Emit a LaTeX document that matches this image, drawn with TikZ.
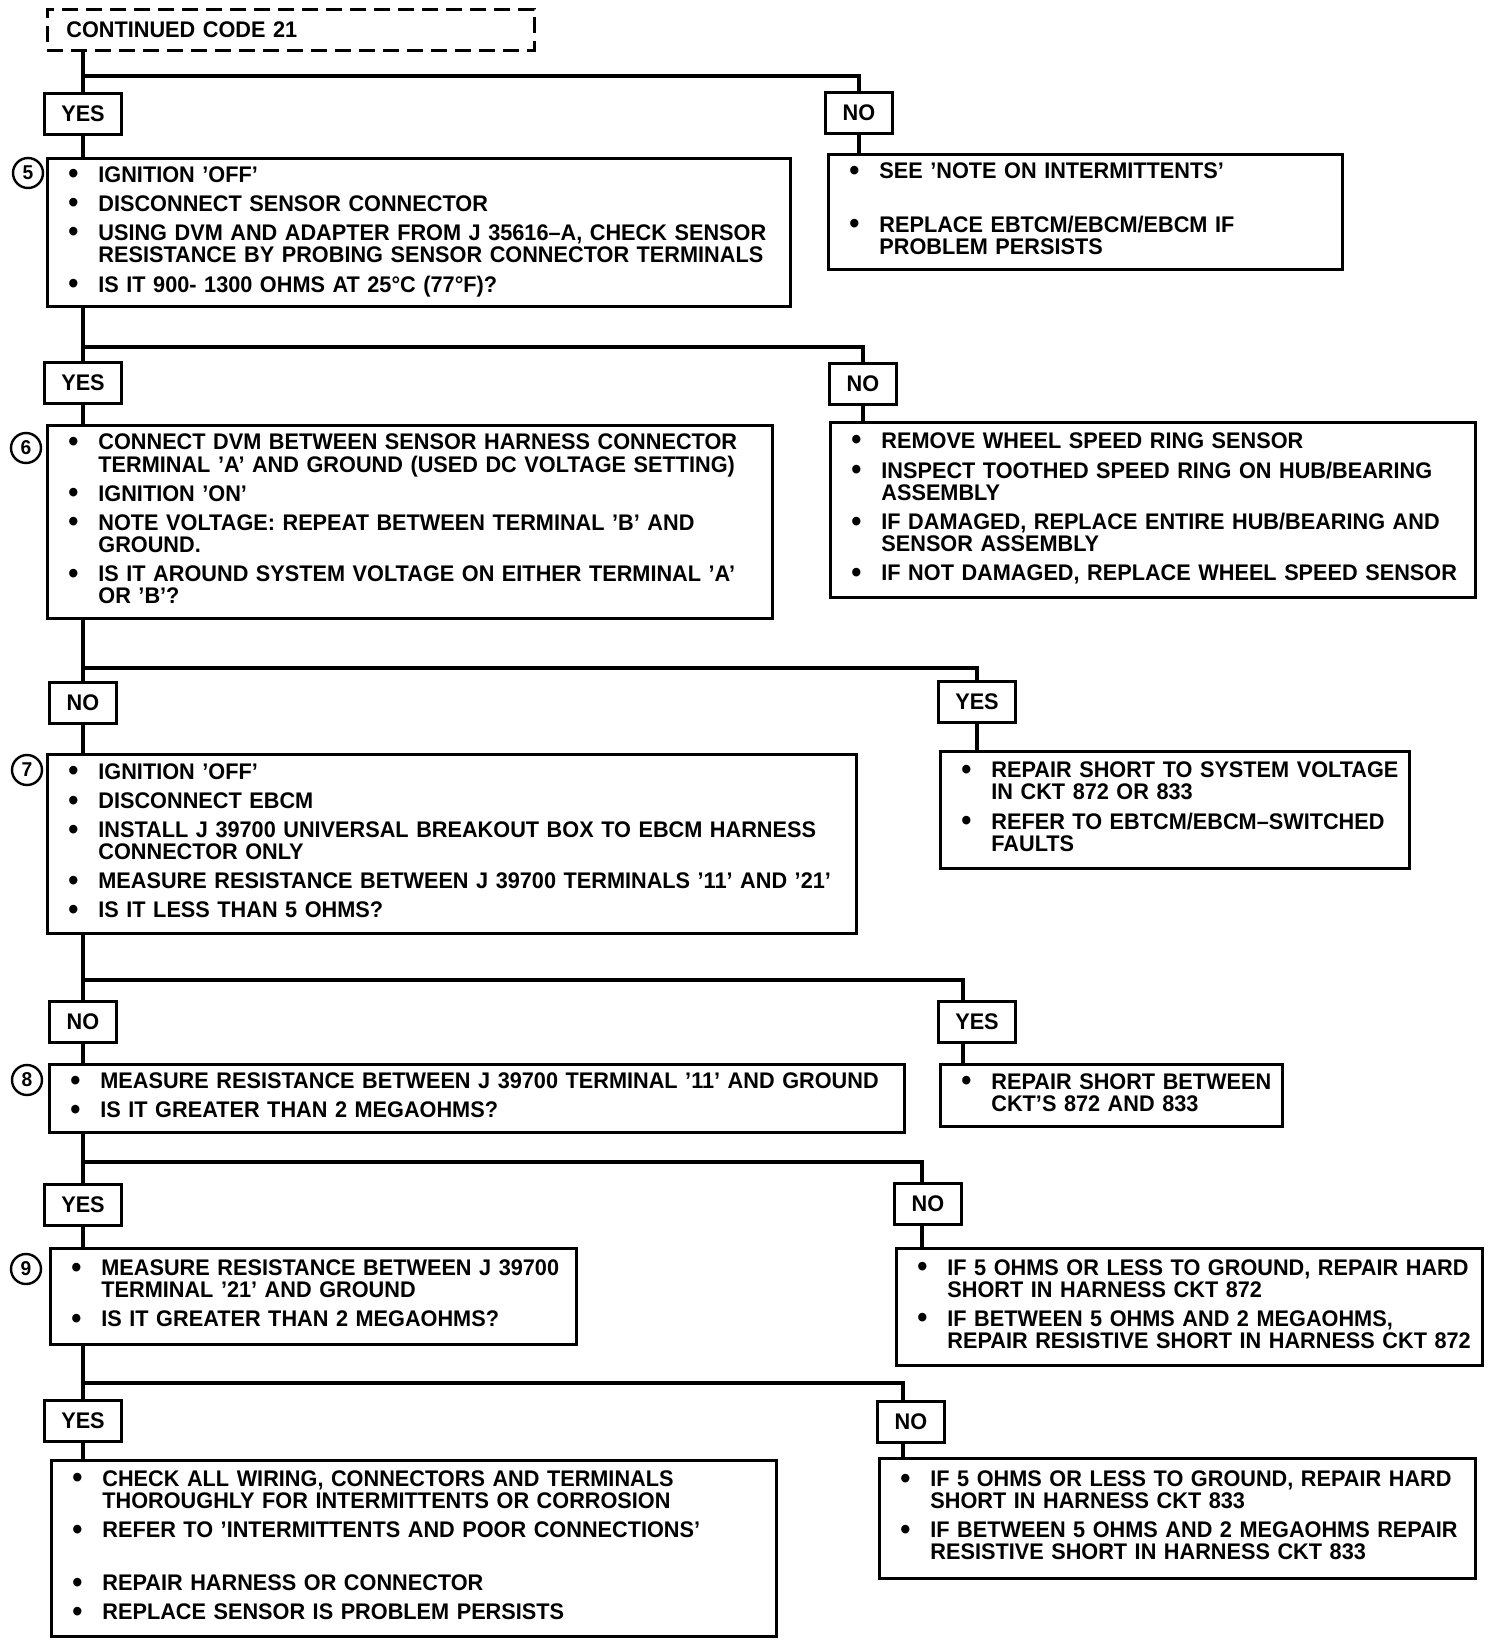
\documentclass[tikz,border=0pt]{standalone}
\usepackage{fontspec}
\setmainfont{Liberation Sans}[FakeStretch=0.96]
\newcommand{\chartfont}{\fontsize{22.6}{21}\selectfont\bfseries}
\newcommand{\numfont}{\fontsize{20}{20}\selectfont\bfseries}
\newcommand{\blt}{\raisebox{-1.5pt}{\fontsize{30}{21}\selectfont\textbullet}}
\newcommand{\itm}[1]{\noindent\makebox[29pt][l]{\hspace{-1pt}\blt}\begin{tabular}[t]{@{}l@{}}#1\end{tabular}\par}

\begin{document}
\begin{tikzpicture}[
    x=1pt, y=-1pt,
    every node/.style={font=\chartfont},
    startbox/.style={draw, line width=2.8pt, dash pattern=on 16pt off 8pt, anchor=north west,
        inner xsep=19pt, inner ysep=0pt, align=left, text width=449pt, minimum height=41pt},
    stepbox/.style={draw, line width=2.8pt, anchor=north west, inner xsep=22pt, inner ysep=0pt,
        align=left, execute at begin node={\setlength{\parskip}{6pt}\hfuzz=300pt}},
    answer/.style={draw, line width=2.8pt, inner xsep=17pt, inner ysep=0pt, minimum height=41pt},
    stepnum/.style={circle, draw, line width=2.4pt, inner sep=0pt, minimum size=30pt, font=\numfont},
    link/.style={line width=3.4pt}
]
\useasboundingbox (0,0) rectangle (1504,1646);

% start
\node[startbox] (cont) at (46,8) {CONTINUED CODE 21};

% step 5
\node[answer] (yes1) at (83,114) {YES};
\node[answer] (no1) at (859,113) {NO};
\node[stepbox, text width=699pt, minimum height=148pt] (s5) at (46,157) {%
    \itm{IGNITION 'OFF'}
    \itm{DISCONNECT SENSOR CONNECTOR}
    \itm{USING DVM AND ADAPTER FROM J 35616--A, CHECK SENSOR\\RESISTANCE BY PROBING SENSOR CONNECTOR TERMINALS}
    \itm{IS IT  900- 1300 OHMS AT 25°C (77°F)?}};
\node[stepnum] (c5) at (28,173) {5};
\node[stepbox, text width=470pt, minimum height=115pt] (r5) at (827,153) {%
    \itm{SEE 'NOTE ON INTERMITTENTS'}
    \vspace{24pt}
    \itm{REPLACE EBTCM/EBCM/EBCM IF\\PROBLEM PERSISTS}};
\coordinate (br1) at (83,76);
\draw[link] (yes1 |- cont.south) -- (yes1.north);
\draw[link] (br1) -| (no1.north);
\draw[link] (yes1.south) -- (yes1 |- s5.north);
\draw[link] (no1.south) -- (no1 |- r5.north);

% step 6
\node[answer] (yes2) at (83,383) {YES};
\node[answer] (no2) at (863,384) {NO};
\node[stepbox, text width=681pt, minimum height=193pt] (s6) at (46,424) {%
    \itm{CONNECT DVM BETWEEN SENSOR HARNESS CONNECTOR\\TERMINAL 'A' AND GROUND (USED DC VOLTAGE SETTING)}
    \itm{IGNITION 'ON'}
    \itm{NOTE VOLTAGE: REPEAT BETWEEN TERMINAL 'B' AND\\GROUND.}
    \itm{IS IT AROUND SYSTEM VOLTAGE ON EITHER TERMINAL 'A'\\OR 'B'?}};
\node[stepnum] (c6) at (26,448) {6};
\node[stepbox, text width=601pt, minimum height=175pt] (r6) at (829,421) {%
    \itm{REMOVE WHEEL SPEED RING SENSOR}
    \itm{INSPECT TOOTHED SPEED RING ON HUB/BEARING\\ASSEMBLY}
    \itm{IF DAMAGED, REPLACE ENTIRE HUB/BEARING AND\\SENSOR ASSEMBLY}
    \itm{IF NOT DAMAGED, REPLACE WHEEL SPEED SENSOR}};
\coordinate (br2) at (83,347);
\draw[link] (yes1 |- s5.south) -- (yes2.north);
\draw[link] (br2) -| (no2.north);
\draw[link] (yes2.south) -- (yes2 |- s6.north);
\draw[link] (no2.south) -- (no2 |- r6.north);

% step 7
\node[answer] (no3) at (83,703) {NO};
\node[answer] (yes3) at (977,702) {YES};
\node[stepbox, text width=765pt, minimum height=179pt] (s7) at (46,753) {%
    \itm{IGNITION 'OFF'}
    \itm{DISCONNECT EBCM}
    \itm{INSTALL J 39700 UNIVERSAL BREAKOUT BOX TO EBCM HARNESS\\CONNECTOR ONLY}
    \itm{MEASURE RESISTANCE BETWEEN J 39700 TERMINALS '11' AND '21'}
    \itm{IS IT LESS THAN 5 OHMS?}};
\node[stepnum] (c7) at (27,770) {7};
\node[stepbox, text width=425pt, minimum height=117pt] (r7) at (939,750) {%
    \itm{REPAIR SHORT TO SYSTEM VOLTAGE\\IN CKT 872 OR 833}
    \itm{REFER TO EBTCM/EBCM--SWITCHED\\FAULTS}};
\coordinate (br3) at (83,668);
\draw[link] (yes2 |- s6.south) -- (no3.north);
\draw[link] (br3) -| (yes3.north);
\draw[link] (no3.south) -- (no3 |- s7.north);
\draw[link] (yes3.south) -- (yes3 |- r7.north);

% step 8
\node[answer] (no4) at (83,1022) {NO};
\node[answer] (yes4) at (977,1022) {YES};
\node[stepbox, text width=811pt, minimum height=68pt] (s8) at (48,1063) {%
    \itm{MEASURE RESISTANCE BETWEEN J 39700 TERMINAL '11' AND GROUND}
    \itm{IS IT GREATER THAN 2 MEGAOHMS?}};
\node[stepnum] (c8) at (27,1080) {8};
\node[stepbox, text width=298pt, minimum height=62pt] (r8) at (939,1063) {%
    \itm{REPAIR SHORT BETWEEN\\CKT'S 872 AND 833}};
\coordinate (br4) at (83,980);
\draw[link] (no3 |- s7.south) -- (no4.north);
\draw[link] (br4) -| ([xshift=-14pt]yes4.north);
\draw[link] (no4.south) -- (no4 |- s8.north);
\draw[link] ([xshift=-14pt]yes4.south) -- ([xshift=-14pt]yes4.south |- r8.north);

% step 9
\node[answer] (yes5) at (83,1205) {YES};
\node[answer] (no5) at (928,1204) {NO};
\node[stepbox, text width=482pt, minimum height=96pt] (s9) at (49,1247) {%
    \itm{MEASURE RESISTANCE BETWEEN J 39700\\TERMINAL '21' AND GROUND}
    \itm{IS IT GREATER THAN 2 MEGAOHMS?}};
\node[stepnum] (c9) at (26,1269) {9};
\node[stepbox, text width=542pt, minimum height=117pt] (r9) at (895,1247) {%
    \itm{IF 5 OHMS OR LESS TO GROUND, REPAIR HARD\\SHORT IN HARNESS CKT 872}
    \itm{IF BETWEEN 5 OHMS AND 2  MEGAOHMS,\\REPAIR RESISTIVE SHORT IN HARNESS CKT 872}};
\coordinate (br5) at (83,1162);
\draw[link] (no4 |- s8.south) -- (yes5.north);
\draw[link] (br5) -| ([xshift=-6pt]no5.north);
\draw[link] (yes5.south) -- (yes5 |- s9.north);
\draw[link] ([xshift=-6pt]no5.south) -- ([xshift=-6pt]no5.south |- r9.north);

% last answers
\node[answer] (yes6) at (83,1421) {YES};
\node[answer] (no6) at (911,1422) {NO};
\node[stepbox, text width=681pt, minimum height=176pt] (fl) at (50,1459) {%
    \itm{CHECK ALL WIRING, CONNECTORS AND TERMINALS\\THOROUGHLY FOR INTERMITTENTS OR CORROSION}
    \itm{REFER TO 'INTERMITTENTS AND POOR CONNECTIONS'}
    \vspace{24pt}
    \itm{REPAIR HARNESS OR CONNECTOR}
    \itm{REPLACE SENSOR IS PROBLEM PERSISTS}};
\node[stepbox, text width=552pt, minimum height=120pt] (fr) at (878,1457) {%
    \itm{IF 5 OHMS OR LESS TO GROUND, REPAIR HARD\\SHORT IN HARNESS CKT 833}
    \itm{IF BETWEEN 5 OHMS AND 2 MEGAOHMS REPAIR\\RESISTIVE SHORT IN HARNESS CKT 833}};
\coordinate (br6) at (83,1383);
\draw[link] (yes5 |- s9.south) -- (yes6.north);
\draw[link] (br6) -| ([xshift=-8pt]no6.north);
\draw[link] (yes6.south) -- (yes6 |- fl.north);
\draw[link] ([xshift=-8pt]no6.south) -- ([xshift=-8pt]no6.south |- fr.north);
\end{tikzpicture}
\end{document}
